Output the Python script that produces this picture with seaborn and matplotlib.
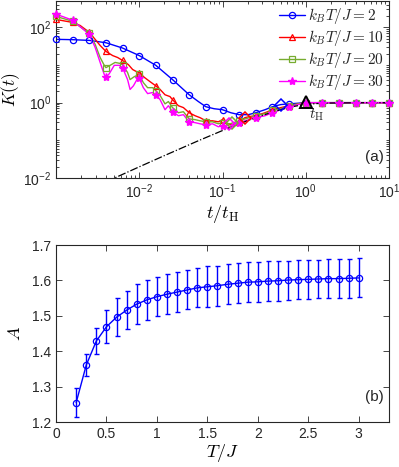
import numpy as np
import pandas as pd
import matplotlib
matplotlib.use("Agg")
import matplotlib.pyplot as plt
import seaborn as sns
from matplotlib.lines import Line2D
from matplotlib.ticker import FixedLocator, FuncFormatter, NullFormatter

sns.set_style("ticks")
plt.rcParams['font.family'] = ['Liberation Sans', 'DejaVu Sans']
plt.rcParams['mathtext.fontset'] = 'cm'

# ---------------- panel (a) data ----------------
labels_a = [r"$k_BT/J=2$", r"$k_BT/J=10$", r"$k_BT/J=20$", r"$k_BT/J=30$"]

t_mark = [0.001, 0.00158, 0.00251, 0.00398, 0.0063, 0.01, 0.0158, 0.0251, 0.0398, 0.0631,
          0.1, 0.158, 0.251, 0.398, 0.631, 1.0, 1.58, 2.51, 3.98, 6.31, 10.0]

# T/J = 2 (blue)
t_blue = [0.001, 0.00158, 0.00251, 0.00398, 0.0063, 0.01, 0.0158, 0.0251, 0.0398, 0.0513, 0.0631,
          0.0794, 0.1, 0.126, 0.158, 0.204, 0.251, 0.324, 0.398, 0.501, 0.631, 1.0, 10.0]
K_blue = [48, 47, 45, 39, 28.2, 17.8, 9.8, 4.1, 1.62, 1.07, 0.78,
          0.69, 0.65, 0.54, 0.48, 0.48, 0.54, 0.65, 0.78, 0.89, 0.93, 1.0, 1.0]
Km_blue = [48, 47, 45, 39, 28.2, 17.8, 9.8, 4.1, 1.62, 0.78, 0.65, 0.48, 0.54, 0.78, 0.93,
           1.0, 1.0, 1.0, 1.0, 1.0, 1.0]

# T/J = 10 (red)
t_red = [0.001, 0.00158, 0.00195, 0.00251, 0.00295, 0.00339, 0.00398, 0.00479, 0.0055, 0.0063,
         0.00741, 0.00832, 0.00912, 0.01, 0.0115, 0.0135, 0.0158, 0.0178, 0.0204, 0.0234,
         0.0251, 0.0295, 0.0339, 0.0398, 0.0468, 0.0537, 0.0631, 0.0759, 0.0891, 0.1,
         0.115, 0.135, 0.158, 0.186, 0.214, 0.251, 0.324, 0.398, 0.501, 0.631,
         0.813, 1.0, 10.0]
K_red = [162, 135, 112, 74, 48, 33, 22.9, 17.8, 15.8, 13.2,
         10.2, 7.6, 6.8, 6.3, 4.7, 3.6, 2.8, 2.24, 1.62, 1.45,
         1.2, 0.83, 0.74, 0.54, 0.45, 0.40, 0.33, 0.33, 0.31, 0.355,
         0.275, 0.257, 0.31, 0.40, 0.43, 0.45, 0.54, 0.65, 0.74, 0.83,
         0.93, 1.0, 1.0]
Km_red = [162, 135, 74, 22.9, 13.2, 6.3, 2.8, 1.2, 0.54, 0.33, 0.355, 0.31, 0.45, 0.65, 0.83,
          1.0, 1.0, 1.0, 1.0, 1.0, 1.0]

# T/J = 20 (green)
t_green = [0.001, 0.00158, 0.00251, 0.00295, 0.00339, 0.0038, 0.00398, 0.00447, 0.00513, 0.00589,
           0.0063, 0.00724, 0.00776, 0.00871, 0.01, 0.0112, 0.0126, 0.0145, 0.0158, 0.0178,
           0.0204, 0.0224, 0.0251, 0.0295, 0.0339, 0.0398, 0.0468, 0.0537, 0.0631, 0.0759,
           0.0891, 0.1, 0.123, 0.158, 0.186, 0.251, 0.324, 0.398, 0.501, 0.631,
           0.813, 1.0, 10.0]
K_green = [195, 145, 69, 35.5, 15.8, 9.8, 8.5, 9.8, 11.7, 11.0,
           10.2, 6.3, 4.1, 4.9, 5.6, 3.4, 2.5, 2.5, 2.09, 1.55,
           0.93, 1.07, 0.74, 0.54, 0.575, 0.37, 0.355, 0.33, 0.31, 0.31,
           0.275, 0.295, 0.275, 0.33, 0.37, 0.45, 0.51, 0.62, 0.69, 0.83,
           0.93, 1.0, 1.0]
Km_green = [195, 145, 69, 8.5, 10.2, 5.6, 2.09, 0.74, 0.37, 0.31, 0.295, 0.33, 0.45, 0.62, 0.83,
            1.0, 1.0, 1.0, 1.0, 1.0, 1.0]

# T/J = 30 (magenta)
t_mag = [0.001, 0.00158, 0.00251, 0.00295, 0.00339, 0.0038, 0.00398, 0.00437, 0.00501, 0.00575,
         0.0063, 0.00724, 0.00776, 0.00851, 0.00955, 0.01, 0.0112, 0.0126, 0.0145, 0.0158,
         0.0178, 0.0204, 0.0224, 0.0251, 0.0295, 0.0339, 0.0398, 0.0468, 0.0537, 0.0631,
         0.0759, 0.0891, 0.1, 0.115, 0.135, 0.158, 0.186, 0.251, 0.324, 0.398,
         0.501, 0.631, 0.813, 1.0, 10.0]
K_mag = [224, 155, 65, 29.5, 11.7, 5.6, 4.7, 5.9, 9.8, 9.8,
         8.5, 4.1, 2.24, 2.8, 4.4, 4.4, 2.5, 1.74, 1.86, 1.62,
         1.2, 0.65, 0.83, 0.575, 0.45, 0.48, 0.31, 0.295, 0.275, 0.257,
         0.275, 0.229, 0.245, 0.214, 0.275, 0.295, 0.33, 0.40, 0.45, 0.54,
         0.65, 0.78, 0.89, 1.0, 1.0]
Km_mag = [224, 155, 65, 4.7, 8.5, 4.4, 1.62, 0.575, 0.31, 0.257, 0.245, 0.295, 0.40, 0.54, 0.78,
          1.0, 1.0, 1.0, 1.0, 1.0, 1.0]

# ramp (dash-dot reference line)
t_ramp = [0.004, 0.005, 0.01, 0.02, 0.05, 0.1, 0.2, 0.3, 0.5, 0.7, 1.0, 1.5, 2.0, 5.0, 10.0]
K_ramp = [0.0080, 0.0099, 0.0198, 0.0392, 0.0952, 0.182, 0.333, 0.459, 0.653, 0.787, 0.901,
          0.960, 0.978, 0.997, 0.999]

# special-time markers (diamonds) and t_H
t_diam = [0.5, 0.186, 0.13, 0.12]
K_diam = [0.85, 0.40, 0.29, 0.27]
t_H, K_H = 1.0, 1.05

# ---------------- panel (b) data ----------------
T_b = [0.2, 0.3, 0.4, 0.5, 0.6, 0.7, 0.8, 0.9, 1.0, 1.1, 1.2, 1.3, 1.4, 1.5, 1.6, 1.7, 1.8, 1.9,
       2.0, 2.1, 2.2, 2.3, 2.4, 2.5, 2.6, 2.7, 2.8, 2.9, 3.0]
A_b = [1.255, 1.361, 1.429, 1.469, 1.496, 1.516, 1.533, 1.545, 1.554, 1.561, 1.567, 1.573, 1.579,
       1.582, 1.585, 1.589, 1.592, 1.595, 1.596, 1.598, 1.599, 1.601, 1.602, 1.603, 1.604, 1.605,
       1.605, 1.606, 1.607]
err_b = [0.040, 0.030, 0.036, 0.047, 0.053, 0.054, 0.056, 0.056, 0.055, 0.056, 0.056, 0.055, 0.055,
         0.058, 0.057, 0.057, 0.056, 0.056, 0.056, 0.056, 0.056, 0.055, 0.055, 0.055, 0.055, 0.055,
         0.055, 0.055, 0.055]

# ---------------- figure ----------------
fig = plt.figure(figsize=(3.99, 4.67), dpi=100)
ax1 = fig.add_axes([56/399, 1 - 178/467, 333/399, 177/467])
ax2 = fig.add_axes([56/399, 1 - 422/467, 333/399, 177/467])

colors = ['#0000ff', '#ff0000', '#77ac30', '#ff00ff']
markers = ['o', '^', 's', '*']
lines_t = [t_blue, t_red, t_green, t_mag]
lines_K = [K_blue, K_red, K_green, K_mag]
marks_K = [Km_blue, Km_red, Km_green, Km_mag]

for i in range(4):
    df = pd.DataFrame({'t': lines_t[i], 'K': lines_K[i]})
    sns.lineplot(data=df, x='t', y='K', ax=ax1, color=colors[i], lw=1.0,
                 sort=False, estimator=None, legend=False)
    dm = pd.DataFrame({'t': t_mark, 'K': marks_K[i]})
    if markers[i] == '*':
        ax1.plot(dm['t'], dm['K'], ls='none', marker='*', ms=6, color=colors[i],
                 mec=colors[i], mfc=colors[i], clip_on=False, zorder=3)
    else:
        ax1.plot(dm['t'], dm['K'], ls='none', marker=markers[i], ms=4.5, mfc='none',
                 mec=colors[i], mew=0.9, clip_on=False, zorder=3)

dr = pd.DataFrame({'t': t_ramp, 'K': K_ramp})
sns.lineplot(data=dr, x='t', y='K', ax=ax1, color='black', lw=0.9, ls='-.',
             sort=False, estimator=None, legend=False)

for (td, kd, c, s) in zip(t_diam, K_diam, ['#0000ff', '#ff0000', '#77ac30', '#ff00ff'],
                          [6.5, 6.5, 6, 6]):
    ax1.plot([td], [kd], marker='D', ms=s, mfc='none', mec=c, mew=1.1, zorder=4)
ax1.plot([t_H], [K_H], marker='^', ms=8, mfc='none', mec='black', mew=1.4, zorder=5)
ax1.text(1.1, 0.78, r"$t_{\rm H}$", fontsize=11, ha='left', va='top')

ax1.set_xscale('log')
ax1.set_yscale('log')
ax1.set_xlim(1e-3, 10)
ax1.set_ylim(1e-2, 500)

def sci_fmt(v, pos):
    e = int(np.round(np.log10(v)))
    return r"$\mathregular{10^{%d}}$" % e

ax1.xaxis.set_major_locator(FixedLocator([1e-2, 1e-1, 1, 10]))
ax1.xaxis.set_major_formatter(FuncFormatter(sci_fmt))
xmin = [m * 10.0**d for d in range(-3, 1) for m in range(2, 10)] + [1e-3]
ax1.xaxis.set_minor_locator(FixedLocator(xmin))
ax1.xaxis.set_minor_formatter(NullFormatter())
ax1.yaxis.set_major_locator(FixedLocator([1e-2, 1, 1e2]))
ax1.yaxis.set_major_formatter(FuncFormatter(sci_fmt))
ymin = [m * 10.0**d for d in range(-2, 3) for m in range(1, 10)]
ymin = [v for v in ymin if v not in (1e-2, 1.0, 100.0) and v <= 500]
ax1.yaxis.set_minor_locator(FixedLocator(ymin))
ax1.yaxis.set_minor_formatter(NullFormatter())

ax1.set_xlabel(r"$t/t_{\rm H}$", fontsize=13, labelpad=1)
ax1.set_ylabel(r"$K(t)$", fontsize=12.5)
ax1.yaxis.set_label_coords(-0.103, 0.5)
ax1.text(0.985, 0.12, "(a)", transform=ax1.transAxes, ha='right', va='center', fontsize=11)

handles = []
for i in range(4):
    if markers[i] == '*':
        h = Line2D([], [], color=colors[i], lw=1.0, marker='*', ms=6, mfc=colors[i])
    else:
        h = Line2D([], [], color=colors[i], lw=1.0, marker=markers[i], ms=4.5, mfc='none',
                   mew=0.9)
    handles.append(h)
ax1.legend(handles, labels_a, loc='upper right', frameon=False, fontsize=11,
           handlelength=1.7, handletextpad=0.15, labelspacing=0.12,
           borderaxespad=0.15, borderpad=0.2)

# panel (b)
dfb = pd.DataFrame({'T': T_b, 'A': A_b})
ax2.errorbar(T_b, A_b, yerr=err_b, fmt='none', ecolor='#0000ff', elinewidth=1.0,
             capsize=1.8, capthick=1.0)
sns.lineplot(data=dfb, x='T', y='A', ax=ax2, color='#0000ff', lw=1.0, marker='o',
             markersize=4.5, markerfacecolor='none', markeredgecolor='#0000ff',
             markeredgewidth=0.9, sort=False, estimator=None, legend=False)
ax2.set_xlim(0, 3.3)
ax2.set_ylim(1.2, 1.7)
ax2.xaxis.set_major_locator(FixedLocator([0, 0.5, 1, 1.5, 2, 2.5, 3]))
ax2.yaxis.set_major_locator(FixedLocator([1.2, 1.3, 1.4, 1.5, 1.6, 1.7]))
ax2.xaxis.set_major_formatter(FuncFormatter(lambda v, p: "%g" % v))
ax2.yaxis.set_major_formatter(FuncFormatter(lambda v, p: "%g" % v))
ax2.set_xlabel(r"$T/J$", fontsize=13, labelpad=1)
ax2.set_ylabel(r"$A$", fontsize=13)
ax2.yaxis.set_label_coords(-0.095, 0.5)
ax2.text(0.985, 0.14, "(b)", transform=ax2.transAxes, ha='right', va='center', fontsize=11)

for ax in (ax1, ax2):
    for sp in ax.spines.values():
        sp.set_visible(True)
        sp.set_linewidth(0.8)
        sp.set_color('#262626')
    ax.tick_params(which='both', direction='in', top=True, right=True, labelsize=10,
                   colors='#262626', width=0.6)
    ax.tick_params(which='major', length=4)
    ax.tick_params(which='minor', length=2)
    ax.xaxis.label.set_color('black')
    ax.yaxis.label.set_color('black')

fig.savefig("out.png", dpi=100)
